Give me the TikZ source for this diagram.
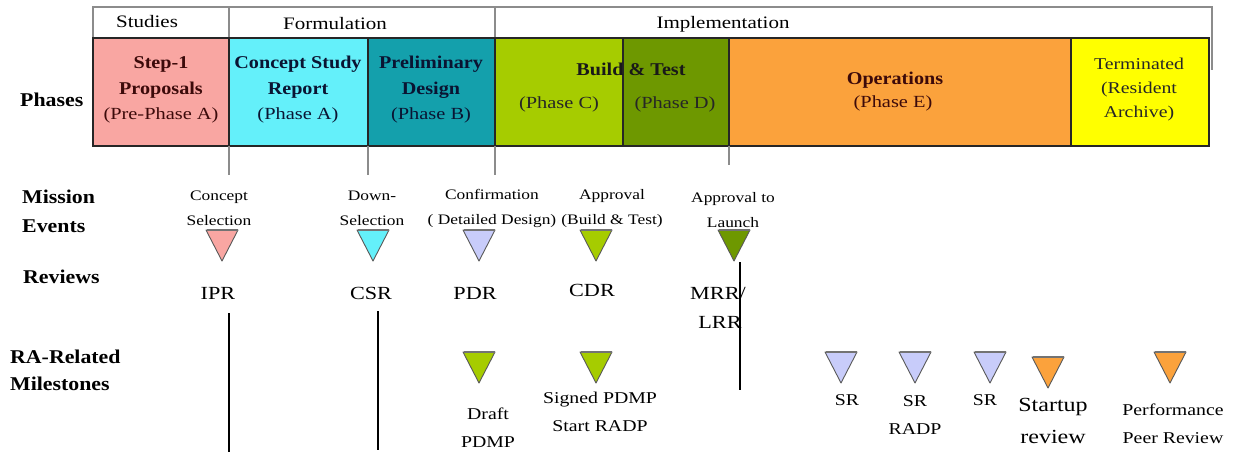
\documentclass[tikz,border=0pt]{standalone}
\usepackage{fontspec}
\setmainfont{Liberation Serif}[FakeStretch=1.2]
\newfontfamily\bfam{Liberation Serif}[FakeStretch=1.12]
\definecolor{pinkc}{RGB}{249,166,162}
\definecolor{cyanc}{RGB}{100,240,250}
\definecolor{tealc}{RGB}{20,160,172}
\definecolor{lgreen}{RGB}{166,204,0}
\definecolor{dgreen}{RGB}{110,152,0}
\definecolor{orangec}{RGB}{251,162,60}
\definecolor{yellowc}{RGB}{255,255,0}
\definecolor{lavc}{RGB}{200,204,250}
\definecolor{maroon}{RGB}{60,10,10}
\definecolor{navy}{RGB}{10,20,50}
\tikzset{
  hdr/.style={font=\fontsize{17.5}{20}\selectfont},
  phbox/.style={draw=black!85, line width=1.2pt, inner sep=0pt, outer sep=0pt, anchor=north west},
  phtxt/.style={font=\fontsize{17}{25.5}\selectfont, align=center, inner sep=0pt},
  phb/.style={font=\bfam\bfseries\fontsize{18}{25.5}\selectfont, inner sep=0pt},
  lab/.style={font=\bfam\bfseries\fontsize{19.5}{29}\selectfont, align=left, anchor=west, inner sep=0pt},
  ev/.style={font=\fontsize{14.5}{25}\selectfont, align=center, inner sep=0pt},
  rv/.style={font=\fontsize{18.5}{29}\selectfont, inner sep=0pt},
  ms/.style={font=\fontsize{16.5}{28}\selectfont, align=center, inner sep=0pt},
  gline/.style={draw=black!45, line width=1.8pt},
  bline/.style={draw=black, line width=1.2pt},
  tri/.style={draw=black!65, line width=0.9pt, line join=round},
}
\newcommand\tri[3]{%
  \draw[tri, fill=#3] (#1-16,#2) -- (#1+16,#2) -- (#1,#2+31) -- cycle;
  \draw[draw=black!55, line width=1.8pt] (#1-15.5,#2) -- (#1+15.5,#2);}
\begin{document}
\begin{tikzpicture}[x=1pt,y=-1pt]
\useasboundingbox (0,0) rectangle (1241,458);
\fill[white] (0,0) rectangle (1241,458);
% header frame
\coordinate (h1) at (93,38);
\coordinate (h2) at (93,7);
\coordinate (h3) at (1212,7);
\coordinate (h4) at (1212,70);
\draw[gline] (h1) -- (h2) -- (h3) -- (h4);
\draw[gline] (229,7) -- (229,38);
\draw[gline] (495,7) -- (495,38);
\node[hdr] (stud) at (147,22) {Studies};
\node[hdr] (form) at (335,24) {Formulation};
\node[hdr] (impl) at (723,24) {Implementation};
% phase boxes
\node[phbox, fill=pinkc, minimum width=136, minimum height=108] (p1) at (93,38) {};
\node[phbox, fill=cyanc, minimum width=139, minimum height=108] (p2) at (229,38) {};
\node[phbox, fill=tealc, minimum width=127, minimum height=108] (p3) at (368,38) {};
\node[phbox, fill=lgreen, minimum width=128, minimum height=108] (p4) at (495,38) {};
\node[phbox, fill=dgreen, minimum width=106, minimum height=108] (p5) at (623,38) {};
\node[phbox, fill=orangec, minimum width=342, minimum height=108] (p6) at (729,38) {};
\node[phbox, fill=yellowc, minimum width=138, minimum height=108] (p7) at (1071,38) {};
% phase texts
\node[phtxt, text=maroon] (t1) at (161,90) {{\bfam\bfseries\fontsize{18}{25.5}\selectfont Step-1}\\{\bfam\bfseries\fontsize{18}{25.5}\selectfont Proposals}\\(Pre-Phase A)};
\node[phtxt, text=navy] (t2) at (298,90) {{\bfam\bfseries\fontsize{18}{25.5}\selectfont Concept Study}\\{\bfam\bfseries\fontsize{18}{25.5}\selectfont Report}\\(Phase A)};
\node[phtxt, text=navy] (t3) at (431,90) {{\bfam\bfseries\fontsize{18}{25.5}\selectfont Preliminary}\\{\bfam\bfseries\fontsize{18}{25.5}\selectfont Design}\\(Phase B)};
\node[phb, text=black!90] (t4) at (631,69) {Build \& Test};
\node[phtxt, text=black!85] (t4c) at (559,104) {(Phase C)};
\node[phtxt, text=black!85] (t4d) at (675,104) {(Phase D)};
\node[phb, text=maroon] (t6) at (895,80) {Operations};
\node[phtxt, text=maroon] (t6e) at (893,103) {(Phase E)};
\node[phtxt, font=\fontsize{16.5}{24}\selectfont, text=black!85] (t7) at (1139,90) {Terminated\\(Resident\\Archive)};
% gray ticks below phases
\draw[gline] (p1.south east) -- ++(0,29);
\draw[gline] (p2.south east) -- ++(0,29);
\draw[gline] (p3.south east) -- ++(0,29);
\draw[gline] (p5.south east) -- ++(0,19);
% left labels
\node[lab] (lphase) at (20,100) {Phases};
\node[lab] (lmiss) at (22,211) {Mission\\Events};
\node[lab] (lrev) at (23,277) {Reviews};
\node[lab, font=\bfam\bfseries\fontsize{19.5}{27}\selectfont] (lra) at (10,370) {RA-Related\\Milestones};
% mission events
\node[ev] (e1) at (219,208.5) {Concept\\Selection};
\node[ev] (e2) at (372,208.5) {Down-\\Selection};
\node[ev] (e3) at (492,208.5) {Confirmation\\( Detailed Design)};
\node[ev] (e4) at (612,208.5) {Approval\\(Build \& Test)};
\node[ev] (e5) at (733,210) {Approval to\\Launch};
\tri{222}{230}{pinkc}
\tri{373}{230}{cyanc}
\tri{479}{230}{lavc}
\tri{596}{230}{lgreen}
\tri{734}{230}{dgreen}
% reviews
\node[rv] (r1) at (218,293) {IPR};
\node[rv] (r2) at (371,293) {CSR};
\node[rv] (r3) at (475,293) {PDR};
\node[rv] (r4) at (592,290) {CDR};
\node[rv] (r5) at (718,293) {MRR/};
\node[rv] (r6) at (720,322) {LRR};
% black lines
\coordinate (b1a) at (229,313); \coordinate (b1b) at (229,452);
\coordinate (b2a) at (378,311); \coordinate (b2b) at (378,450);
\coordinate (b3a) at (740,262); \coordinate (b3b) at (740,390);
\draw[bline] (b1a) -- (b1b);
\draw[bline] (b2a) -- (b2b);
\draw[bline] (b3a) -- (b3b);
% RA milestones
\tri{479}{352}{lgreen}
\tri{596}{352}{lgreen}
\tri{841}{352}{lavc}
\tri{915}{352}{lavc}
\tri{990}{352}{lavc}
\tri{1048}{357}{orangec}
\tri{1170}{352}{orangec}
\node[ms] (m1) at (488,427.5) {Draft\\PDMP};
\node[ms] (m2) at (600,412) {Signed PDMP\\Start RADP};
\node[ms] (m3) at (847,400) {SR};
\node[ms] (m4) at (915,415) {SR\\RADP};
\node[ms] (m5) at (985,400) {SR};
\node[ms, font=\fontsize{20}{32}\selectfont] (m6) at (1053,421) {Startup\\review};
\node[ms] (m7) at (1173,424) {Performance\\Peer Review};
\end{tikzpicture}
\end{document}
